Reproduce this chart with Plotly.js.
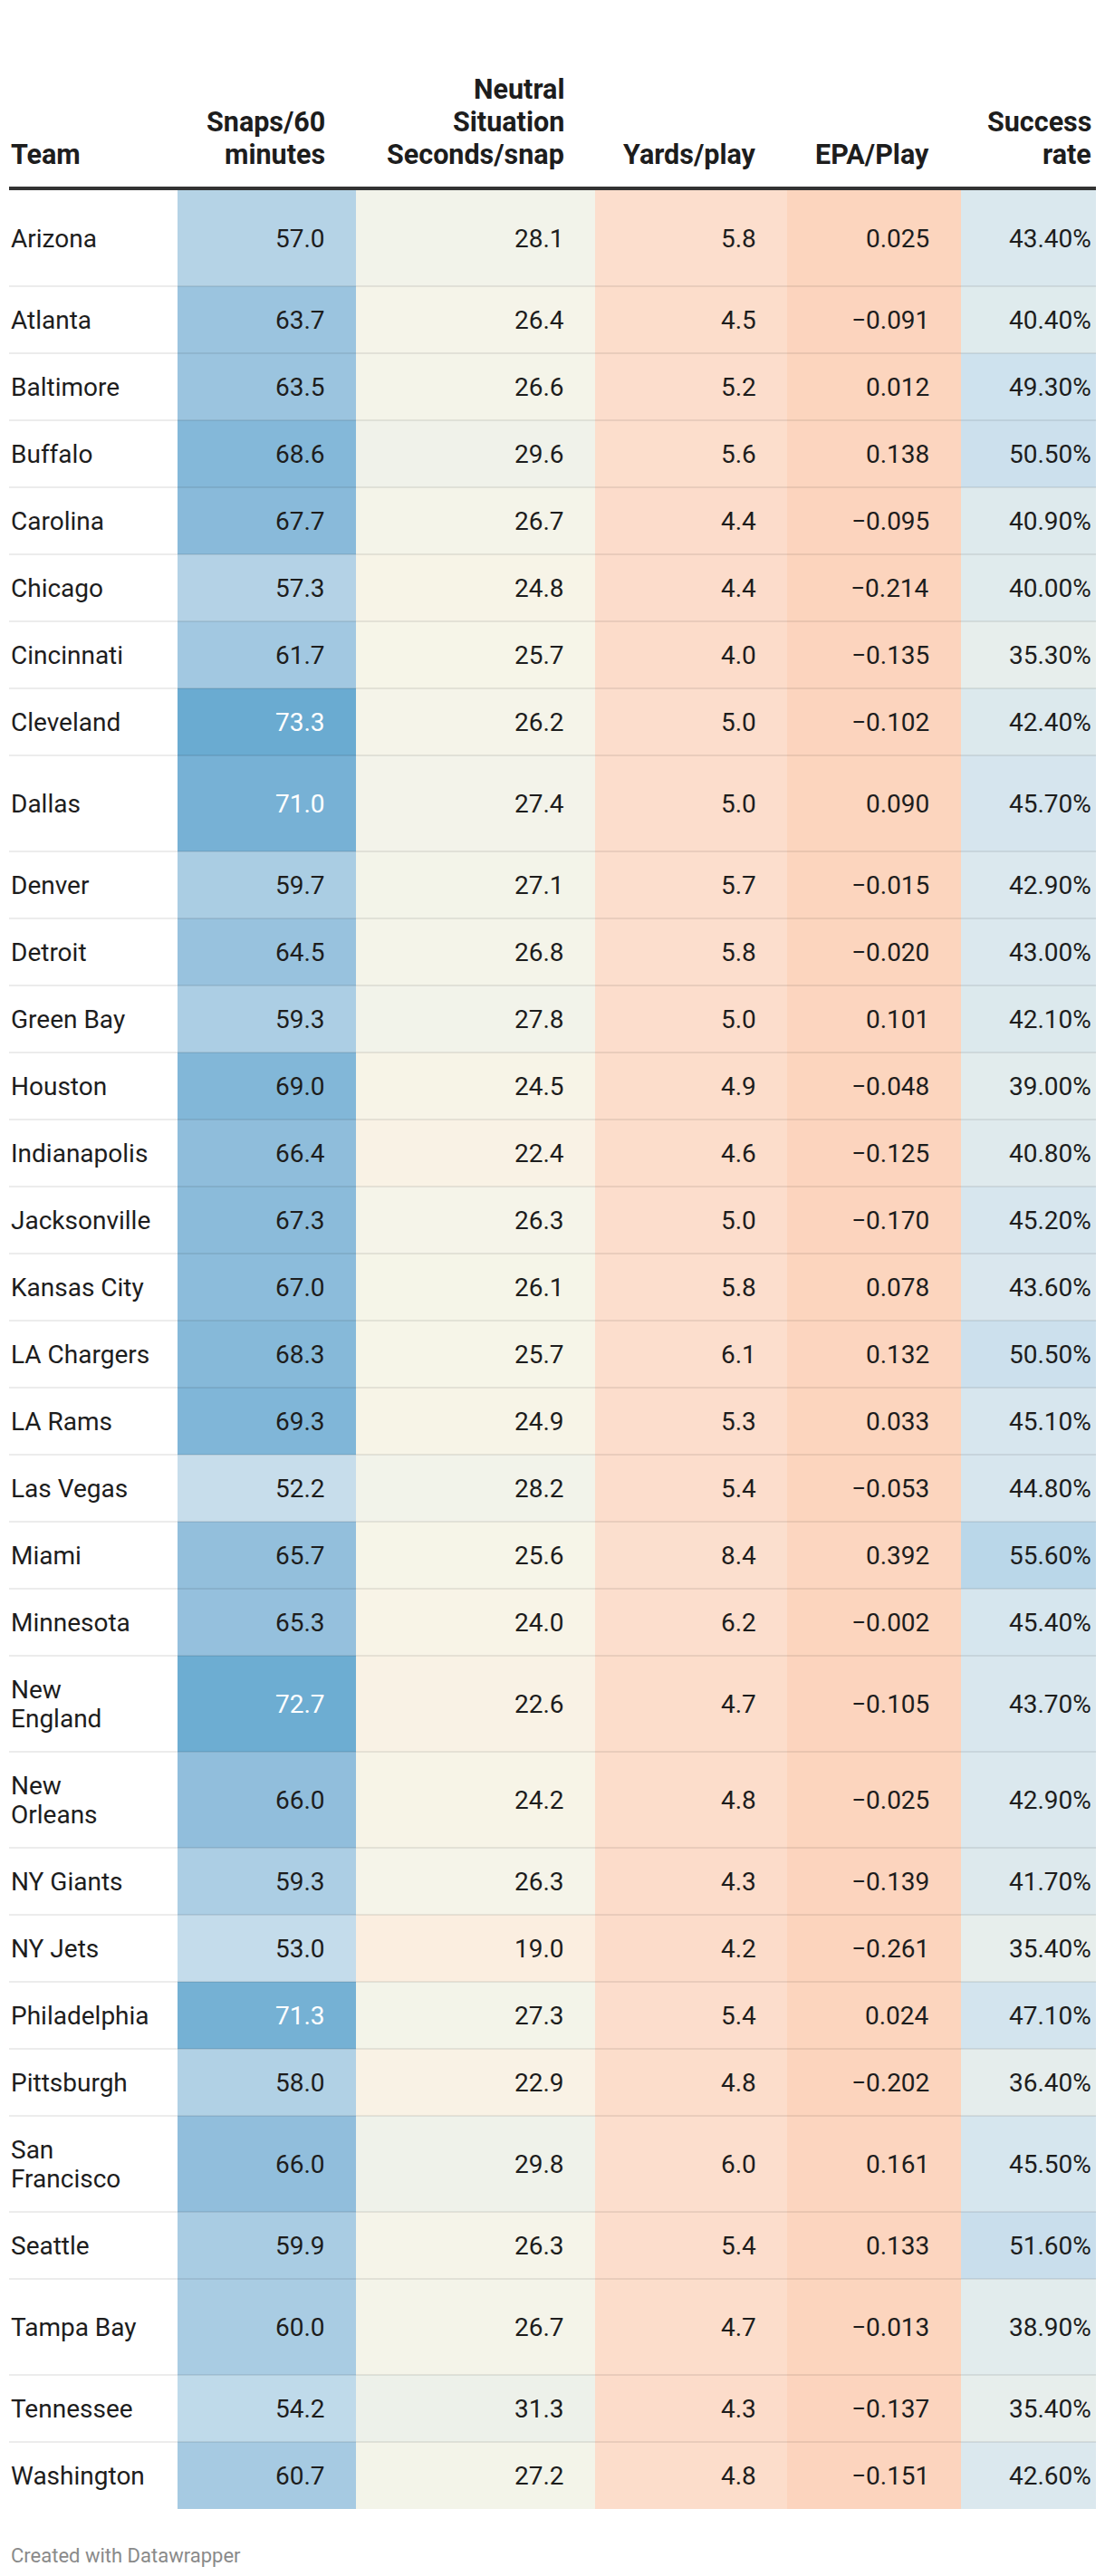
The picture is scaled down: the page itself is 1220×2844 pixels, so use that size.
<!DOCTYPE html>
<html>
<head>
<meta charset="utf-8">
<script src="https://cdn.plot.ly/plotly-3.0.1.min.js"></script>
<style>
  html, body { margin: 0; padding: 0; background: #ffffff; }
  #chart { width: 1220px; height: 2844px; }
</style>
</head>
<body>
<div id="chart"></div>
<script>
// ---------------- DATA ----------------
const teams = ["Arizona","Atlanta","Baltimore","Buffalo","Carolina","Chicago","Cincinnati","Cleveland","Dallas","Denver","Detroit","Green Bay","Houston","Indianapolis","Jacksonville","Kansas City","LA Chargers","LA Rams","Las Vegas","Miami","Minnesota","New England","New Orleans","NY Giants","NY Jets","Philadelphia","Pittsburgh","San Francisco","Seattle","Tampa Bay","Tennessee","Washington"];
const teamLabels = ["Arizona","Atlanta","Baltimore","Buffalo","Carolina","Chicago","Cincinnati","Cleveland","Dallas","Denver","Detroit","Green Bay","Houston","Indianapolis","Jacksonville","Kansas City","LA Chargers","LA Rams","Las Vegas","Miami","Minnesota","New|England","New|Orleans","NY Giants","NY Jets","Philadelphia","Pittsburgh","San|Francisco","Seattle","Tampa Bay","Tennessee","Washington"];
const snaps60 = [57.0,63.7,63.5,68.6,67.7,57.3,61.7,73.3,71.0,59.7,64.5,59.3,69.0,66.4,67.3,67.0,68.3,69.3,52.2,65.7,65.3,72.7,66.0,59.3,53.0,71.3,58.0,66.0,59.9,60.0,54.2,60.7];
const secondsPerSnap = [28.1,26.4,26.6,29.6,26.7,24.8,25.7,26.2,27.4,27.1,26.8,27.8,24.5,22.4,26.3,26.1,25.7,24.9,28.2,25.6,24.0,22.6,24.2,26.3,19.0,27.3,22.9,29.8,26.3,26.7,31.3,27.2];
const yardsPerPlay = [5.8,4.5,5.2,5.6,4.4,4.4,4.0,5.0,5.0,5.7,5.8,5.0,4.9,4.6,5.0,5.8,6.1,5.3,5.4,8.4,6.2,4.7,4.8,4.3,4.2,5.4,4.8,6.0,5.4,4.7,4.3,4.8];
const epaPerPlay = [0.025,-0.091,0.012,0.138,-0.095,-0.214,-0.135,-0.102,0.090,-0.015,-0.020,0.101,-0.048,-0.125,-0.170,0.078,0.132,0.033,-0.053,0.392,-0.002,-0.105,-0.025,-0.139,-0.261,0.024,-0.202,0.161,0.133,-0.013,-0.137,-0.151];
const successRate = [43.40,40.40,49.30,50.50,40.90,40.00,35.30,42.40,45.70,42.90,43.00,42.10,39.00,40.80,45.20,43.60,50.50,45.10,44.80,55.60,45.40,43.70,42.90,41.70,35.40,47.10,36.40,45.50,51.60,38.90,35.40,42.60];
const headers = ["Team", "Snaps/60|minutes", "Neutral|Situation|Seconds/snap", "Yards/play", "EPA/Play", "Success|rate"];
const footer = "Created with Datawrapper";

// ---------------- LAYOUT / STYLE ----------------
const W = 1220, H = 2844;
const FONT = "Roboto, 'Open Sans', sans-serif";
const tallRows = new Set(["Arizona","Dallas","New England","New Orleans","San Francisco","Tampa Bay"]);
const ROW_H = 74, TALL_H = 106;
const TOP = 210;
const colEdges = [196, 393, 657, 869, 1061, 1210];
const textRight = [361, 625, 837, 1028, 1207];
const LEFT = 10;
const BODY_SIZE = 28, HEAD_SIZE = 30.5;

// colour scale (value -> colour), one scale for the whole table
const scaleStops = [
  [-0.3,'#fcd4bd'],[1,'#fcd7c2'],[4,'#fcdcca'],[6,'#fcdecd'],[8.4,'#fbdfce'],
  [19,'#fbeee0'],[22.5,'#f9f2e5'],[25.5,'#f6f5e8'],[28,'#f2f3ea'],[31.3,'#edf1ea'],
  [35.4,'#e7eeec'],[40,'#e0ebed'],[45,'#d7e6ee'],[50,'#cde1ee'],[52.5,'#c6ddeb'],
  [55.6,'#bad7e9'],[57,'#b5d3e6'],[61.7,'#a2c8e1'],[65.7,'#93bfdc'],[68.6,'#84b8d9'],[73.3,'#6aabd1']
];
const zmin = scaleStops[0][0], zmax = scaleStops[scaleStops.length-1][0];
const colorscale = scaleStops.map(s => [(s[0]-zmin)/(zmax-zmin), s[1]]);

// row edges
const yEdges = [TOP];
teams.forEach(t => yEdges.push(yEdges[yEdges.length-1] + (tallRows.has(t) ? TALL_H : ROW_H)));

const columns = [snaps60, secondsPerSnap, yardsPerPlay, epaPerPlay, successRate];
const z = teams.map((t, i) => columns.map(c => c[i]));

const fmtMinus = s => s.replace('-', '\u2212');
const formatters = [
  v => v.toFixed(1),
  v => v.toFixed(1),
  v => v.toFixed(1),
  v => fmtMinus(v.toFixed(3)),
  v => v.toFixed(2) + '%'
];

const heat = {
  type: 'heatmap',
  x: colEdges,
  y: yEdges,
  z: z,
  zmin: zmin, zmax: zmax,
  colorscale: colorscale,
  showscale: false,
  hoverinfo: 'skip',
  xgap: 0, ygap: 0
};

const annotations = [];
const shapes = [];

// header
const HEAD_BASE = 181, HEAD_LH = 36;
headers.forEach((h, j) => {
  const lines = h.split('|');
  lines.forEach((ln, k) => {
    const baseline = HEAD_BASE - (lines.length - 1 - k) * HEAD_LH;
    annotations.push({
      x: j === 0 ? LEFT : textRight[j-1], y: baseline - 11,
      xref: 'x', yref: 'y', showarrow: false,
      xanchor: j === 0 ? 'left' : 'right', yanchor: 'middle',
      text: '<b>' + ln + '</b>',
      font: {family: FONT, size: HEAD_SIZE, color: '#1d1d1d'}
    });
  });
});
shapes.push({type: 'line', xref: 'x', yref: 'y', x0: LEFT, x1: colEdges[colEdges.length-1], y0: 208, y1: 208,
  line: {color: '#333333', width: 4}});

// body
teams.forEach((t, i) => {
  const yc = (yEdges[i] + yEdges[i+1]) / 2;
  const lines = teamLabels[i].split('|');
  lines.forEach((ln, k) => {
    annotations.push({
      x: LEFT, y: yc + (k - (lines.length - 1) / 2) * 32,
      xref: 'x', yref: 'y', showarrow: false, xanchor: 'left', yanchor: 'middle',
      text: ln, font: {family: FONT, size: BODY_SIZE, color: '#1d1d1d'}
    });
  });
  columns.forEach((c, j) => {
    const v = c[i];
    annotations.push({
      x: textRight[j], y: yc,
      xref: 'x', yref: 'y', showarrow: false, xanchor: 'right', yanchor: 'middle',
      text: formatters[j](v),
      font: {family: FONT, size: BODY_SIZE, color: v > 70 ? '#ffffff' : '#1d1d1d'}
    });
  });
  if (i > 0) {
    shapes.push({type: 'line', xref: 'x', yref: 'y', x0: LEFT, x1: colEdges[colEdges.length-1],
      y0: yEdges[i], y1: yEdges[i], layer: 'above',
      line: {color: 'rgba(0,0,0,0.075)', width: 2}});
  }
});

// footer
annotations.push({
  x: LEFT, y: 2821, xref: 'x', yref: 'y', showarrow: false, xanchor: 'left', yanchor: 'middle',
  text: footer, font: {family: FONT, size: 22, color: '#8a8a8a'}
});

const layout = {
  width: W, height: H,
  margin: {l: 0, r: 0, t: 0, b: 0, pad: 0},
  paper_bgcolor: '#ffffff', plot_bgcolor: '#ffffff',
  xaxis: {range: [0, W], visible: false, fixedrange: true},
  yaxis: {range: [H, 0], visible: false, fixedrange: true},
  showlegend: false,
  annotations: annotations,
  shapes: shapes
};

Plotly.newPlot('chart', [heat], layout, {staticPlot: true, displayModeBar: false});
</script>
</body>
</html>
